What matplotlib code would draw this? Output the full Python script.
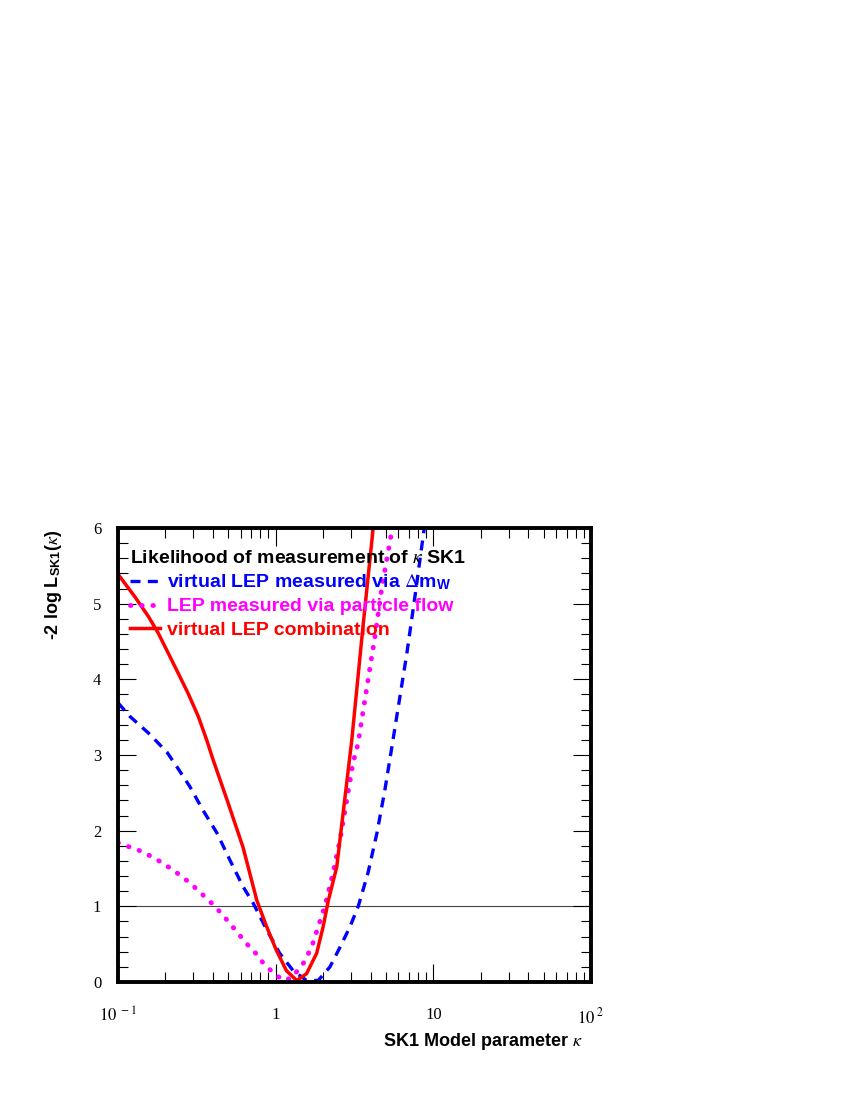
import numpy as np
import matplotlib
matplotlib.use('Agg')
import matplotlib.pyplot as plt
from matplotlib.ticker import LogLocator, MultipleLocator, NullFormatter

plt.rcParams['font.family'] = ['Liberation Serif', 'DejaVu Serif']
plt.rcParams['mathtext.fontset'] = 'stix'

# Kurven
k_blue = [0.1, 0.119, 0.156, 0.204, 0.237, 0.286, 0.346, 0.424, 0.513, 0.621, 0.721, 0.877,
          1.06, 1.29, 1.57, 1.86, 2.21, 2.56, 2.96, 3.34, 3.85, 4.39, 4.93, 5.55, 6.80, 7.64,
          8.72, 9.0]
y_blue = [3.69, 3.51, 3.29, 3.04, 2.84, 2.58, 2.27, 1.97, 1.61, 1.26, 1.04, 0.69,
          0.38, 0.15, 0.02, 0.02, 0.20, 0.46, 0.73, 1.00, 1.44, 1.97, 2.54, 3.20, 4.35, 5.09,
          5.97, 6.2]

k_mag = [0.1, 0.144, 0.193, 0.237, 0.286, 0.346, 0.412, 0.491, 0.569, 0.658, 0.721, 0.834,
         0.966, 1.12, 1.26, 1.50, 1.69, 1.86, 2.05, 2.31, 2.56, 2.83, 3.09, 3.33, 3.79, 4.26,
         4.72, 5.46, 5.6]
y_mag = [1.84, 1.72, 1.57, 1.44, 1.31, 1.15, 1.00, 0.82, 0.66, 0.50, 0.42, 0.25,
         0.12, 0.02, 0.05, 0.25, 0.46, 0.73, 1.00, 1.44, 1.88, 2.41, 2.89, 3.15, 3.90, 4.56,
         5.22, 5.97, 6.1]

k_red = [0.1, 0.128, 0.156, 0.180, 0.209, 0.241, 0.279, 0.323, 0.365, 0.402, 0.491, 0.621,
         0.759, 0.877, 1.01, 1.17, 1.36, 1.57, 1.82, 2.00, 2.16, 2.44, 2.66, 3.04, 3.56, 4.14, 4.2]
y_red = [5.39, 5.09, 4.83, 4.61, 4.34, 4.08, 3.81, 3.51, 3.20, 2.93, 2.41, 1.78,
         1.08, 0.73, 0.42, 0.15, 0.02, 0.11, 0.38, 0.73, 1.08, 1.52, 2.18, 3.20, 4.65, 5.97, 6.1]

fig = plt.figure(figsize=(8.5, 11), dpi=100)
ax = fig.add_axes([118/850, 1-982/1100, (591-118)/850, (982-528)/1100])

ax.axhline(1, color='#444444', lw=0.8, zorder=1)
ax.plot(k_blue, y_blue, color='blue', lw=2.4, ls=(0, (3, 2.2)),
        label=r'virtual LEP measured via $\Delta$m$_\mathregular{W}$')
ax.plot(k_mag, y_mag, color='magenta', lw=3.5, ls=(0, (0.1, 2.2)), dash_capstyle='round',
        label='LEP measured via particle flow')
ax.plot(k_red, y_red, color='red', lw=2.5, label='virtual LEP combination')

ax.set_xscale('log')
ax.set_xlim(0.1, 100)
ax.set_ylim(0, 6)

ax.set_xticks([0.1, 1, 10, 100])
ax.set_xticklabels([r'$10^{\ -1}$', '1', '10', r'$10^{\ 2}$'])
ax.xaxis.set_minor_locator(LogLocator(base=10, subs=np.arange(2, 10)))
ax.xaxis.set_minor_formatter(NullFormatter())
ax.yaxis.set_major_locator(MultipleLocator(1))
ax.yaxis.set_minor_locator(MultipleLocator(0.2))

ax.tick_params(which='both', direction='in', top=True, right=True, labelsize=12)
ax.tick_params(which='major', length=13, width=0.8)
ax.tick_params(which='minor', length=7, width=0.8)
ax.tick_params(axis='x', pad=18)
ax.tick_params(axis='y', pad=12)
for s in ax.spines.values():
    s.set_linewidth(2.8)

ax.set_xlabel(r'SK1 Model parameter $\kappa$', fontfamily='Liberation Sans', fontweight='bold',
              fontsize=13, ha='right')
ax.xaxis.set_label_coords(0.981, -0.108)
ax.set_ylabel(r'-2 log L$_\mathregular{SK1}$($\kappa$)', fontfamily='Liberation Sans', fontweight='bold',
              fontsize=13, ha='right')
ax.yaxis.set_label_coords(-0.114, 0.996)

leg = ax.legend(loc='upper left', bbox_to_anchor=(0.025, 0.951), frameon=False,
                title=r'Likelihood of measurement of $\kappa$ SK1', alignment='left',
                prop={'family': 'Liberation Sans', 'weight': 'bold', 'size': 14},
                handlelength=1.55, handletextpad=0.35, labelspacing=0.28, borderpad=0,
                borderaxespad=0)
leg.get_title().set_fontfamily('Liberation Sans')
leg.get_title().set_fontweight('bold')
leg.get_title().set_fontsize(14)
for t, c in zip(leg.get_texts(), ['blue', 'magenta', 'red']):
    t.set_color(c)

fig.savefig('out.png', dpi=100)
